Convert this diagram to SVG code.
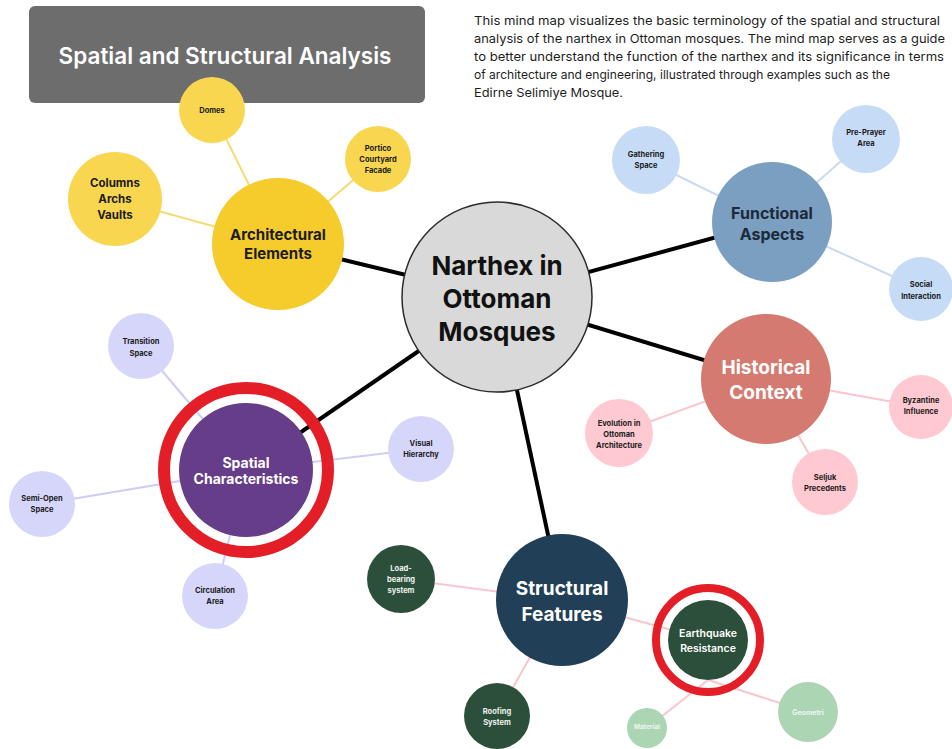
<svg xmlns="http://www.w3.org/2000/svg" width="952" height="749" viewBox="0 0 952 749">
<style>
text{font-family:Inter,"DejaVu Sans",sans-serif;text-anchor:middle;dominant-baseline:central}
.main{stroke:#000;stroke-width:4;fill:none}
.c-y{stroke:#f5db70;stroke-width:2;fill:none}
.c-b{stroke:#c9dbf3;stroke-width:2;fill:none}
.c-p{stroke:#f9c6cd;stroke-width:2;fill:none}
.c-v{stroke:#cdcdf7;stroke-width:2;fill:none}
.sm{font-size:7.5px;font-weight:700;fill:#1b1b1b}
.smw{font-size:7.5px;font-weight:700;fill:#eef3ee}
.ring{fill:none;stroke:#e31e26}
.para{font-size:12.3px;text-anchor:start;dominant-baseline:auto;fill:#1e1e1e}
</style>
<rect x="29" y="6" width="396" height="97" rx="6" fill="#6d6d6d"/>
<text x="225" y="55" font-size="22.5" font-weight="600" fill="#fff">Spatial and Structural Analysis</text>
<g id="description">
<text class="para" x="474" y="25" textLength="466" lengthAdjust="spacingAndGlyphs">This mind map visualizes the basic terminology of the spatial and structural</text>
<text class="para" x="474" y="43" textLength="471" lengthAdjust="spacingAndGlyphs">analysis of the narthex in Ottoman mosques. The mind map serves as a guide</text>
<text class="para" x="474" y="61" textLength="470" lengthAdjust="spacingAndGlyphs">to better understand the function of the narthex and its significance in terms</text>
<text class="para" x="474" y="79" textLength="416" lengthAdjust="spacingAndGlyphs">of architecture and engineering, illustrated through examples such as the</text>
<text class="para" x="474" y="97" textLength="149" lengthAdjust="spacingAndGlyphs">Edirne Selimiye Mosque.</text>
</g>
<g id="connectors">
<line class="main" x1="497" y1="297" x2="278" y2="244"/>
<line class="main" x1="497" y1="297" x2="772" y2="222"/>
<line class="main" x1="497" y1="297" x2="766" y2="379"/>
<line class="main" x1="497" y1="297" x2="246" y2="470"/>
<line class="main" x1="497" y1="297" x2="562" y2="600"/>
<line class="c-y" x1="212" y1="110" x2="278" y2="244"/>
<line class="c-y" x1="378" y1="159" x2="278" y2="244"/>
<line class="c-y" x1="115" y1="199" x2="278" y2="244"/>
<line class="c-b" x1="646" y1="160" x2="772" y2="222"/>
<line class="c-b" x1="866" y1="139" x2="772" y2="222"/>
<line class="c-b" x1="921" y1="289" x2="772" y2="222"/>
<line class="c-p" x1="766" y1="379" x2="921" y2="407"/>
<line class="c-p" x1="766" y1="379" x2="619" y2="433"/>
<line class="c-p" x1="766" y1="379" x2="825" y2="482"/>
<line class="c-v" x1="246" y1="470" x2="141" y2="346"/>
<line class="c-v" x1="246" y1="470" x2="421" y2="449"/>
<line class="c-v" x1="246" y1="470" x2="42" y2="504"/>
<line class="c-v" x1="246" y1="470" x2="215" y2="596"/>
<line class="c-p" x1="562" y1="600" x2="401" y2="579"/>
<line class="c-p" x1="562" y1="600" x2="497" y2="716"/>
<line class="c-p" x1="562" y1="600" x2="708" y2="640"/>
<line class="c-p" x1="708" y1="680" x2="647" y2="728"/>
<line class="c-p" x1="708" y1="680" x2="808" y2="712"/>
</g>
<g id="narthex">
<circle cx="497" cy="297" r="95" fill="#d9d9d9" stroke="#2b2b2b" stroke-width="1.5"/>
<text x="497" y="265" font-size="26" font-weight="700" fill="#111">Narthex in</text>
<text x="497" y="298" font-size="26" font-weight="700" fill="#111">Ottoman</text>
<text x="497" y="331" font-size="26" font-weight="700" fill="#111">Mosques</text>
</g>
<g id="architectural-elements">
<circle cx="278" cy="244" r="66" fill="#f6cb2c"/>
<text x="278" y="234" font-size="15" font-weight="700" fill="#1b1b1b">Architectural</text>
<text x="278" y="253" font-size="15" font-weight="700" fill="#1b1b1b">Elements</text>
</g>
<g id="domes">
<circle cx="212" cy="110" r="33" fill="#f8d64f"/>
<text class="sm" x="212" y="110">Domes</text>
</g>
<g id="portico">
<circle cx="378" cy="159" r="33" fill="#f8d64f"/>
<text class="sm" x="378" y="148">Portico</text>
<text class="sm" x="378" y="159">Courtyard</text>
<text class="sm" x="378" y="170">Facade</text>
</g>
<g id="columns">
<circle cx="115" cy="199" r="47" fill="#f8d64f"/>
<text x="115" y="183" font-size="11.5" font-weight="700" fill="#1b1b1b">Columns</text>
<text x="115" y="199" font-size="11.5" font-weight="700" fill="#1b1b1b">Archs</text>
<text x="115" y="215" font-size="11.5" font-weight="700" fill="#1b1b1b">Vaults</text>
</g>
<g id="functional-aspects">
<circle cx="772" cy="222" r="60" fill="#7b9fc1"/>
<text x="772" y="213" font-size="16" font-weight="700" fill="#1b2a3a">Functional</text>
<text x="772" y="234" font-size="16" font-weight="700" fill="#1b2a3a">Aspects</text>
</g>
<g id="gathering-space">
<circle cx="646" cy="160" r="34" fill="#c6dbf6"/>
<text class="sm" x="646" y="154">Gathering</text>
<text class="sm" x="646" y="165">Space</text>
</g>
<g id="pre-prayer">
<circle cx="866" cy="139" r="34" fill="#c6dbf6"/>
<text class="sm" x="866" y="132">Pre-Prayer</text>
<text class="sm" x="866" y="143">Area</text>
</g>
<g id="social-interaction">
<circle cx="921" cy="289" r="32" fill="#c6dbf6"/>
<text class="sm" x="921" y="284">Social</text>
<text class="sm" x="921" y="296">Interaction</text>
</g>
<g id="historical-context">
<circle cx="766" cy="379" r="65" fill="#d47a70"/>
<text x="766" y="367" font-size="19" font-weight="700" fill="#fff">Historical</text>
<text x="766" y="392" font-size="19" font-weight="700" fill="#fff">Context</text>
</g>
<g id="byzantine">
<circle cx="921" cy="407" r="32" fill="#ffc9d1"/>
<text class="sm" x="921" y="400">Byzantine</text>
<text class="sm" x="921" y="411">Influence</text>
</g>
<g id="evolution">
<circle cx="619" cy="433" r="34" fill="#ffc9d1"/>
<text class="sm" x="619" y="423">Evolution in</text>
<text class="sm" x="619" y="434">Ottoman</text>
<text class="sm" x="619" y="445">Architecture</text>
</g>
<g id="seljuk">
<circle cx="825" cy="482" r="33" fill="#ffc9d1"/>
<text class="sm" x="825" y="477">Seljuk</text>
<text class="sm" x="825" y="488">Precedents</text>
</g>
<g id="spatial-characteristics">
<circle cx="246" cy="470" r="82" class="ring" stroke-width="12"/>
<circle cx="246" cy="470" r="67" fill="#663d88"/>
<text x="246" y="462" font-size="14" font-weight="700" fill="#fff">Spatial</text>
<text x="246" y="478" font-size="14" font-weight="700" fill="#fff">Characteristics</text>
</g>
<g id="transition-space">
<circle cx="141" cy="346" r="33" fill="#d6d6fb"/>
<text class="sm" x="141" y="341">Transition</text>
<text class="sm" x="141" y="353">Space</text>
</g>
<g id="visual-hierarchy">
<circle cx="421" cy="449" r="33" fill="#d6d6fb"/>
<text class="sm" x="421" y="443">Visual</text>
<text class="sm" x="421" y="454">Hierarchy</text>
</g>
<g id="semi-open">
<circle cx="42" cy="504" r="33" fill="#d6d6fb"/>
<text class="sm" x="42" y="498">Semi-Open</text>
<text class="sm" x="42" y="509">Space</text>
</g>
<g id="circulation">
<circle cx="215" cy="596" r="33" fill="#d6d6fb"/>
<text class="sm" x="215" y="590">Circulation</text>
<text class="sm" x="215" y="601">Area</text>
</g>
<g id="structural-features">
<circle cx="562" cy="600" r="66" fill="#213f56"/>
<text x="562" y="588" font-size="19" font-weight="700" fill="#fff">Structural</text>
<text x="562" y="614" font-size="19" font-weight="700" fill="#fff">Features</text>
</g>
<g id="load-bearing">
<circle cx="401" cy="579" r="34" fill="#2c4f3c"/>
<text class="smw" x="401" y="568">Load-</text>
<text class="smw" x="401" y="579">bearing</text>
<text class="smw" x="401" y="590">system</text>
</g>
<g id="roofing">
<circle cx="497" cy="716" r="33" fill="#2c4f3c"/>
<text class="smw" x="497" y="711">Roofing</text>
<text class="smw" x="497" y="722">System</text>
</g>
<g id="earthquake">
<circle cx="708" cy="640" r="52" class="ring" stroke-width="8"/>
<circle cx="708" cy="640" r="40" fill="#2c4f3c"/>
<text x="708" y="633" font-size="10.5" font-weight="600" fill="#fff">Earthquake</text>
<text x="708" y="648" font-size="10.5" font-weight="600" fill="#fff">Resistance</text>
</g>
<g id="material">
<circle cx="647" cy="728" r="20" fill="#acd5b4"/>
<text x="647" y="727" font-size="6.5" font-weight="700" fill="#eef6ef">Material</text>
</g>
<g id="geometri">
<circle cx="808" cy="712" r="30" fill="#acd5b4"/>
<text x="808" y="712" font-size="7" font-weight="700" fill="#eef6ef">Geometri</text>
</g>
</svg>
